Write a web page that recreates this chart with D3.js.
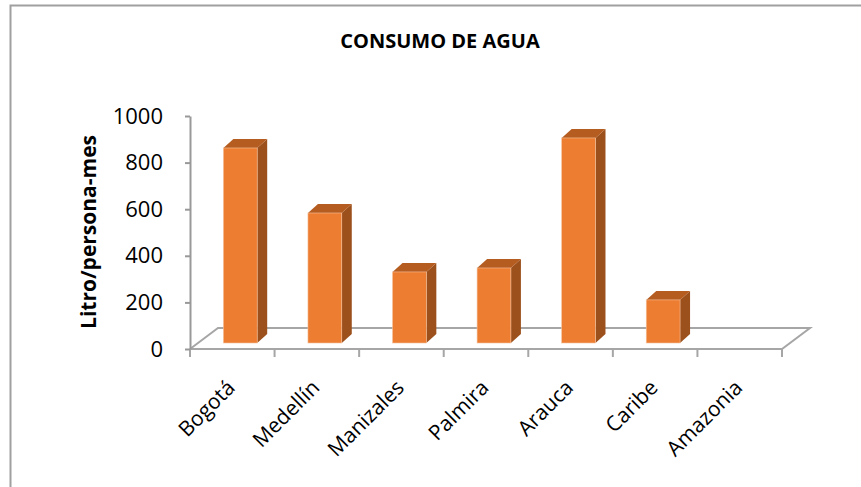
<!DOCTYPE html>
<meta charset="utf-8">
<head>
    <style>
        body {margin: 0; background: #fff;}
        text {font-family: "Open Sans", sans-serif; fill: #000;}
        .axis path, .axis line {stroke: #999; stroke-width: 2;}
        .floor {stroke: #a6a6a6; stroke-width: 2; fill: none;}
    </style>
    <script src="https://d3js.org/d3.v7.min.js"></script>
</head>
<body>
<script>

    var categories = ["Bogotá", "Medellín", "Manizales", "Palmira", "Arauca", "Caribe", "Amazonia"],
        values = [837, 558, 305, 322, 880, 185, 0],
        yTicks = [0, 200, 400, 600, 800, 1000];

    var W = 861, H = 487;

    // oblique 3d offsets
    var floorDx = 28, floorDy = -21,   // depth of floor
        frontDx = 8, frontDy = -6,     // where bar front sits
        barDx = 10, barDy = -9;        // bar depth

    var x = d3.scaleBand()
        .domain(categories)
        .range([190, 782]);

    var y = d3.scaleLinear()
        .domain([0, 1000])
        .range([349, 116]);

    var svg = d3.select("body").append("svg")
        .attr("width", W)
        .attr("height", H)

    // outer border (left + top only visible)
    svg.append("path")
        .attr("d", "M10.5," + H + "V5.5H" + W)
        .attr("stroke", "#a0a0a0")
        .attr("stroke-width", 2)
        .attr("fill", "none")

    svg.append("text")
        .attr("x", 440)
        .attr("y", 48)
        .attr("text-anchor", "middle")
        .style("font-weight", "bold")
        .style("font-size", "20px")
        .text("CONSUMO DE AGUA")

    // floor
    var x0 = x.range()[0], x1 = x.range()[1], y0 = y(0);
    svg.append("path")
        .attr("class", "floor")
        .attr("d", "M" + x0 + "," + y0 + "L" + (x0 + floorDx) + "," + (y0 + floorDy)
            + "H" + (x1 + floorDx) + "L" + x1 + "," + y0 + "H" + x0)

    // category ticks
    svg.append("g")
        .selectAll("line")
        .data(categories.concat(["end"]))
      .enter().append("line")
        .attr("x1", function(d, i) {return x0 + i * x.bandwidth()})
        .attr("x2", function(d, i) {return x0 + i * x.bandwidth()})
        .attr("y1", y0)
        .attr("y2", y0 + 8)
        .attr("stroke", "#a6a6a6")
        .attr("stroke-width", 2)

    // y axis
    svg.append("g")
        .attr("class", "axis")
        .attr("transform", "translate(" + x0 + ",0)")
        .call(d3.axisLeft(y).tickValues(yTicks).tickFormat(d3.format("d")).tickSize(5).tickSizeOuter(0).tickPadding(22))
        .call(function(g) {g.selectAll("text").style("font-size", "22px").attr("fill", "#000")})

    svg.append("text")
        .attr("transform", "translate(96,232) rotate(-90)")
        .attr("text-anchor", "middle")
        .style("font-weight", "bold")
        .style("font-size", "21px")
        .text("Litro/persona-mes")

    // bars
    var barW = x.bandwidth() * 0.4;
    var bars = svg.append("g")
        .selectAll("g")
        .data(categories.map(function(c, i) {return {c: c, v: values[i]}}).filter(function(d) {return d.v > 0}))
      .enter().append("g")

    function bx(d) {return x(d.c) + (x.bandwidth() - barW) / 2 + frontDx}

    bars.append("path")  // side
        .attr("fill", "#9c501c")
        .attr("d", function(d) {
            var l = bx(d) + barW, t = y(d.v) + frontDy, b = y(0) + frontDy;
            return "M" + l + "," + b + "V" + t + "l" + barDx + "," + barDy + "V" + (b + barDy) + "Z";
        })

    bars.append("path")  // top
        .attr("fill", "#b55c21")
        .attr("d", function(d) {
            var l = bx(d), t = y(d.v) + frontDy;
            return "M" + l + "," + t + "l" + barDx + "," + barDy + "h" + barW + "l" + (-barDx) + "," + (-barDy) + "Z";
        })

    bars.append("rect")  // front
        .attr("fill", "#ed7d31")
        .attr("stroke", "#f6c4a0")
        .attr("stroke-width", 0.6)
        .attr("x", bx)
        .attr("y", function(d) {return y(d.v) + frontDy})
        .attr("width", barW)
        .attr("height", function(d) {return y(0) - y(d.v)})

    // category labels
    svg.append("g")
        .selectAll("text")
        .data(categories)
      .enter().append("text")
        .attr("transform", function(d) {return "translate(" + (x(d) + x.bandwidth() / 2 + 4) + "," + (y0 + 40) + ") rotate(-45)"})
        .attr("text-anchor", "end")
        .style("font-size", "21px")
        .text(function(d) {return d})

</script>
</body>
